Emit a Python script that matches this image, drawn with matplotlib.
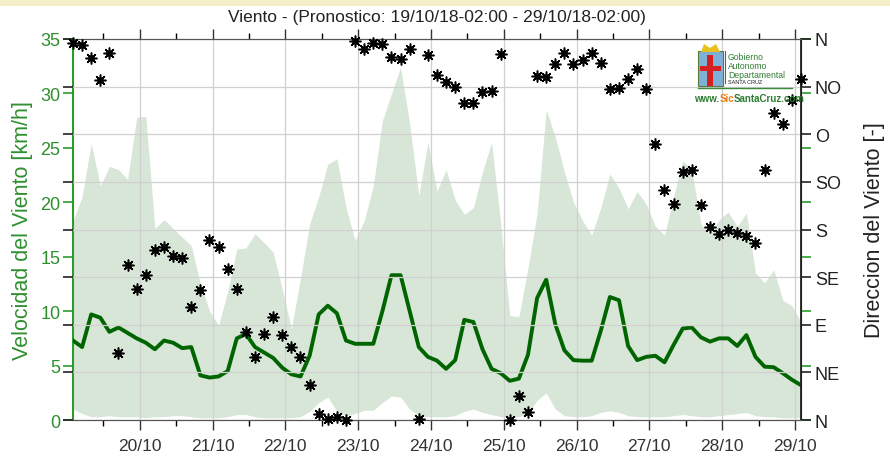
import numpy as np
import pandas as pd
import matplotlib
matplotlib.use("Agg")
import matplotlib.pyplot as plt
import matplotlib.dates as mdates
from matplotlib.patches import Rectangle, Polygon
from matplotlib.lines import Line2D

plt.rcParams['font.family'] = ['Liberation Sans', 'DejaVu Sans']

# ---------------- data (3-hourly, 19/10/18 02:00 -> 29/10/18 02:00) ----------------
start = "2018-10-19 02:00"
end = "2018-10-29 02:00"

speed_mean = [7.3, 6.7, 9.7, 9.4, 8.1, 8.5, 8.0, 7.5, 7.1, 6.5,
              7.3, 7.1, 6.6, 6.7, 4.1, 3.9, 4.0, 4.5, 7.5, 7.9,
              6.7, 6.2, 5.7, 4.8, 4.2, 4.0, 5.9, 9.7, 10.5, 9.8,
              7.3, 7.0, 7.0, 7.0, 10.0, 13.3, 13.3, 10.0, 6.7, 5.8,
              5.45, 4.7, 5.5, 9.2, 9.0, 6.5, 4.7, 4.3, 3.6, 3.8,
              6.0, 11.2, 12.9, 8.8, 6.4, 5.5, 5.45, 5.45, 8.2, 11.3,
              11.0, 6.8, 5.5, 5.8, 5.9, 5.3, 6.9, 8.4, 8.5, 7.6,
              7.2, 7.5, 7.5, 6.8, 7.8, 5.8, 4.9, 4.85, 4.3, 3.7,
              3.2]

speed_max = [18.3, 20.5, 25.4, 21.5, 23.3, 23.0, 22.1, 27.8, 27.9, 17.6,
             18.4, 17.6, 16.8, 16.0, 12.5, 10.0, 8.7, 11.8, 15.7, 15.8,
             17.1, 16.3, 15.4, 12.0, 8.4, 13.0, 18.0, 20.5, 23.5, 24.0,
             19.5, 16.5, 18.3, 21.5, 27.5, 30.0, 32.4, 27.2, 20.6, 25.5,
             21.0, 23.0, 20.2, 18.9, 19.5, 22.8, 25.5, 18.0, 9.6, 9.5,
             14.0, 19.0, 28.5, 26.0, 22.8, 20.0, 18.3, 17.0, 19.5, 22.6,
             21.3, 19.4, 21.0, 19.8, 17.8, 17.0, 20.5, 23.8, 23.0, 18.0,
             17.0, 18.4, 19.1, 17.8, 19.0, 13.5, 12.6, 13.8, 11.0, 10.5,
             9.0]

speed_min = [1.0, 0.6, 0.3, 0.3, 0.4, 0.3, 0.3, 0.3, 0.2, 0.3,
             0.3, 0.4, 0.4, 0.3, 0.2, 0.2, 0.2, 0.3, 0.5, 0.5,
             0.3, 0.2, 0.2, 0.2, 0.2, 0.3, 0.8, 1.6, 2.1, 0.8,
             0.4, 0.6, 0.9, 0.9, 1.6, 2.2, 2.1, 1.0, 0.4, 0.3,
             0.3, 0.3, 0.4, 0.8, 1.0, 0.7, 0.5, 0.3, 0.2, 0.3,
             0.6, 1.8, 2.5, 1.0, 0.4, 0.3, 0.3, 0.4, 0.7, 0.85,
             0.7, 0.4, 0.3, 0.3, 0.3, 0.3, 0.4, 0.5, 0.4, 0.3,
             0.3, 0.4, 0.5, 0.6, 0.7, 0.4, 0.3, 0.3, 0.2, 0.2,
             0.2]

direction = [356, 354, 342, 321, 347, 63, 146, 124, 137, 161,
             163, 155, 153, 107, 123, 170, 163, 143, 124, 83,
             60, 81, 97, 80, 69, 60, 33, 6, 1, 3,
             0, 358, 351, 356, 355, 343, 341, 351, 1, 345,
             326, 319, 315, 300, 300, 310, 311, 346, 0, 23,
             8, 325, 324, 336, 347, 336, 340, 347, 337, 313,
             314, 322, 332, 313, 261, 217, 204, 234, 236, 203,
             182, 176, 180, 177, 174, 167, 236, 290, 280, 302,
             322]

dir_ticks = [0, 45, 90, 135, 180, 225, 270, 315, 360]
dir_labels = ['N', 'NE', 'E', 'SE', 'S', 'SO', 'O', 'NO', 'N']
speed_ticks = [0, 5, 10, 15, 20, 25, 30, 35]

title = "Viento - (Pronostico: 19/10/18-02:00 - 29/10/18-02:00)"

times = pd.date_range(start, periods=len(speed_mean), freq="3h")

# ---------------- figure ----------------
W, H = 890, 460
fig = plt.figure(figsize=(W / 100, H / 100), dpi=100)
fig.patch.set_facecolor('white')
# beige band at the top
fig.add_artist(Rectangle((0, 1 - 7 / H), 1, 7 / H, transform=fig.transFigure,
                         facecolor='#f4eecb', edgecolor='none'))

L, R, T, B = 73, 801, 40, 421
ax = fig.add_axes([L / W, 1 - B / H, (R - L) / W, (B - T) / H])
ax2 = ax.twinx()

green_txt = '#2f8f2f'
band_col = '#d7e6d7'
line_col = '#006400'
grid_col = '#d0d0d0'

ax.fill_between(times, speed_min, speed_max, color=band_col, lw=0, zorder=1)
ax.plot(times, speed_mean, color=line_col, lw=2.8, zorder=3)

ax.set_xlim(pd.Timestamp(start), pd.Timestamp(end))
ax.set_ylim(0, 35)
ax.set_yticks(speed_ticks)
ax.set_axisbelow(False)
ax.grid(axis='x', which='major', color=grid_col, lw=0.9)

ax.xaxis.set_major_locator(mdates.DayLocator())
ax.xaxis.set_minor_locator(mdates.HourLocator(byhour=[12]))
ax.xaxis.set_major_formatter(mdates.DateFormatter('%d/%m'))
ax.tick_params(axis='x', which='major', direction='out', length=7, width=1,
               top=True, bottom=True, labelsize=12.5, colors='#333333', pad=6)
ax.tick_params(axis='x', which='minor', direction='out', length=4, width=1,
               top=True, bottom=True)
ax.tick_params(axis='y', direction='out', length=7, width=1.2, left=True, right=True,
               colors='#2e9a2e', labelcolor=green_txt, labelsize=13, pad=2)

ax.set_ylabel('Velocidad del Viento [km/h]', color=green_txt, fontsize=15.5, labelpad=5)

for s in ['top', 'bottom']:
    ax.spines[s].set_color('#555555')
ax.spines['left'].set_color('#2e9a2e')
ax.spines['left'].set_linewidth(1.5)

# direction axis
ax2.set_ylim(0, 360)
ax2.set_yticks(dir_ticks)
ax2.set_yticklabels(dir_labels)
ax2.tick_params(axis='y', direction='out', length=7, width=1.2, left=True, right=True,
                colors='#222222', labelsize=13, pad=3)
ax2.grid(axis='y', color=grid_col, lw=0.9)
ax2.set_ylabel('Direccion del Viento [-]', color='#222222', fontsize=15.5, labelpad=16)
ax2.spines['left'].set_visible(False)
ax2.spines['right'].set_color('#222222')
ax2.spines['right'].set_linewidth(1.3)
for s in ['top', 'bottom']:
    ax2.spines[s].set_color('#555555')

ax2.plot(times, direction, linestyle='none', marker=(8, 2, 0), markersize=8.5,
         markeredgewidth=1.1, color='black', zorder=4, clip_on=False)
ax2.plot(times, direction, linestyle='none', marker='o', markersize=3.8,
         color='black', zorder=5, clip_on=False)

ax.set_title(title, fontsize=12.5, color='#222222', pad=13)

# ---------------- logo (approximation) ----------------
def fx(x):
    return x / W


def fy(y):
    return 1 - y / H


# shield
fig.add_artist(Rectangle((fx(698), fy(87)), 25 / W, 35 / H, transform=fig.transFigure,
                         facecolor='#7fb0d8', edgecolor='#5a7a3a', lw=0.8, zorder=10))
fig.add_artist(Rectangle((fx(707), fy(87)), 6 / W, 31 / H, transform=fig.transFigure,
                         facecolor='#d62020', edgecolor='none', zorder=11))
fig.add_artist(Rectangle((fx(700), fy(72)), 21 / W, 5 / H, transform=fig.transFigure,
                         facecolor='#d62020', edgecolor='none', zorder=11))
fig.add_artist(Polygon([(fx(701), fy(53)), (fx(704), fy(45)), (fx(710), fy(49)),
                        (fx(716), fy(45)), (fx(720), fy(53))], closed=True,
                       transform=fig.transFigure, facecolor='#e8c020', edgecolor='none', zorder=11))
fig.add_artist(Line2D([fx(725), fx(725)], [fy(52), fy(84)], transform=fig.transFigure,
                      color='#3a7a3a', lw=0.8, zorder=10))
for i, txt in enumerate(['Gobierno', 'Autonomo', 'Departamental']):
    fig.text(fx(728), fy(58 + i * 8.5), txt, fontsize=6.2, color='#2e7d32',
             va='center', ha='left', zorder=12)
fig.text(fx(728), fy(82.5), 'SANTA CRUZ', fontsize=4.0, color='#222222',
         va='center', ha='left', zorder=12)
fig.add_artist(Line2D([fx(698), fx(792)], [fy(89), fy(89)], transform=fig.transFigure,
                      color='#3a8a3a', lw=1.0, zorder=10))
t1 = fig.text(fx(694), fy(99), 'www.', fontsize=7.0, color='#2e7d32', weight='bold',
              va='center', ha='left', zorder=12)
fig.canvas.draw()
r = fig.canvas.get_renderer()
bb = t1.get_window_extent(r)
t2 = fig.text(bb.x1 / W, fy(99), 'Sic', fontsize=7.0, color='#f07a10', weight='bold',
              va='center', ha='left', zorder=12)
bb2 = t2.get_window_extent(r)
fig.text(bb2.x1 / W, fy(99), 'SantaCruz.com', fontsize=7.0, color='#2e7d32', weight='bold',
         va='center', ha='left', zorder=12)

fig.savefig('out.png', dpi=100)
